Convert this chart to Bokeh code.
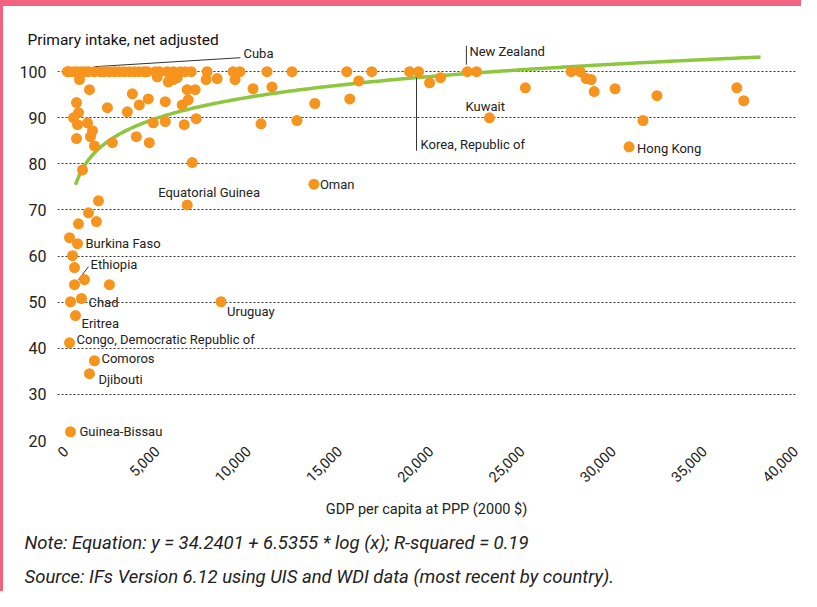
import math
import numpy as np
from bokeh.plotting import figure
from bokeh.layouts import column, row
from bokeh.models import Range1d, FixedTicker, NumeralTickFormatter, ColumnDataSource, Title, Spacer
from bokeh.embed import file_html
from bokeh.resources import INLINE
from bokeh.core.properties import value

# ---------------- data ----------------
# countries at 100 (net adjusted primary intake), GDP per capita at PPP (2000 $)
top_gdp = [100, 160, 380, 600, 820, 1040, 1260, 1910, 2130, 2400, 2680, 2950, 3220,
           3500, 3770, 4040, 4320, 4480, 4920, 5140, 5570, 5900, 6290, 6560, 6890,
           7760, 9180, 9560, 11040, 12410, 15410, 16780, 18850, 22520, 27710, 28200]
top_intake = [100] * len(top_gdp)

other_gdp = [765, 1312, 601, 710, 437, 656, 1202, 601, 1476, 1366, 1585, 929,
             2295, 2568, 3388, 3661, 4044, 4536, 3880, 4590, 4809, 5465, 5465,
             5028, 5629, 5902, 6121, 6668, 7105, 6722, 6394, 6503, 7159, 6941,
             7705, 8306, 9290, 10274, 11312, 10711, 12679, 13663, 15575, 16067,
             19950, 20551, 25196, 28530, 28803, 28967, 30115, 31645, 32410,
             36782, 37164,
             1803, 1257, 1694, 710, 218, 382, 491, 1038, 2405, 273]
other_intake = [98.3, 96.1, 93.3, 91.1, 90.0, 88.5, 88.9, 85.5, 87.2, 85.9, 83.9, 78.7,
                92.2, 84.6, 91.3, 95.2, 92.8, 94.1, 85.9, 84.6, 88.9, 93.5, 89.2,
                98.9, 97.8, 98.3, 98.7, 96.1, 96.1, 93.9, 92.8, 88.5, 89.8, 80.3,
                98.3, 98.5, 98.3, 96.3, 96.7, 88.7, 89.4, 93.1, 94.1, 98.0,
                97.6, 98.7, 96.5, 98.5, 98.3, 95.7, 96.3, 89.4, 94.8,
                96.5, 93.7,
                72.0, 69.4, 67.5, 67.0, 64.0, 60.1, 57.5, 54.9, 53.8, 50.1]

label_names = ["Cuba", "Korea, Republic of", "New Zealand", "Kuwait", "Hong Kong",
               "Oman", "Equatorial Guinea", "Burkina Faso", "Ethiopia", "Chad",
               "Uruguay", "Eritrea", "Congo, Democratic Republic of", "Comoros",
               "Djibouti", "Guinea-Bissau"]
label_gdp = [1585, 19343, 22020, 23230, 30880, 13610, 6668, 656, 491, 874,
             8522, 546, 218, 1585, 1312, 273]
label_intake = [100, 100, 100, 90.0, 83.7, 75.6, 71.1, 62.7, 53.8, 50.8,
                50.1, 47.1, 41.2, 37.3, 34.5, 21.9]

x_ticks = [0, 5000, 10000, 15000, 20000, 25000, 30000, 35000, 40000]
y_ticks = [20, 30, 40, 50, 60, 70, 80, 90, 100]

trend_a, trend_b = 34.2401, 6.5355          # y = a + b * ln(x)
trend_x_min, trend_x_max = 547, 38085

title_text = "Primary intake, net adjusted"
xaxis_text = "GDP per capita at PPP (2000 $)"
note_text = "Note: Equation: y = 34.2401 + 6.5355 * log (x); R-squared = 0.19"
source_text = "Source: IFs Version 6.12 using UIS and WDI data (most recent by country)."

# ---------------- layout / style ----------------
PINK = "#F06381"
FONT = "Roboto"
ORANGE = "#F7941D"
GREEN = "#8DC63F"
TXT = "#222222"

W, H = 798, 585              # next to a 3px pink stripe, under a 6px pink band
L, R, T, B = 54, 6, 38, 151
X0, X1 = -440, 40000
Y0, Y1 = 20, 105.9
FW, FH = W - L - R, H - T - B
XPP = (X1 - X0) / FW
YPP = (Y1 - Y0) / FH

p = figure(width=W, height=H, x_range=Range1d(X0, X1), y_range=Range1d(Y0, Y1),
           output_backend="svg", toolbar_location=None,
           min_border_left=L, min_border_right=R, min_border_top=T, min_border_bottom=B)
p.outline_line_color = None
p.background_fill_color = "white"
p.border_fill_color = "white"

for ax in (p.xaxis, p.yaxis):
    ax.axis_line_color = None
    ax.major_tick_line_color = None
    ax.minor_tick_line_color = None
    ax.major_label_text_font = FONT
    ax.major_label_text_color = TXT
p.xaxis.ticker = FixedTicker(ticks=x_ticks)
p.xaxis.formatter = NumeralTickFormatter(format="0,0")
p.xaxis.major_label_orientation = math.pi / 4
p.xaxis.major_label_text_font_size = "14.5px"
p.xaxis.major_label_standoff = 2
p.xaxis.axis_label = xaxis_text
p.xaxis.axis_label_text_font = FONT
p.xaxis.axis_label_text_font_size = "14.5px"
p.xaxis.axis_label_text_font_style = "normal"
p.xaxis.axis_label_text_color = TXT
p.xaxis.axis_label_standoff = 11
p.yaxis.ticker = FixedTicker(ticks=y_ticks)
p.yaxis.major_label_text_font_size = "16px"
p.yaxis.major_label_standoff = 5

p.xgrid.grid_line_color = None
p.ygrid.grid_line_color = "#333333"
p.ygrid.grid_line_dash = "2 2"
p.ygrid.grid_line_width = 1

# titles (title above, notes below the axis)
p.add_layout(Title(text=title_text, align="left", offset=-30, standoff=-8,
                   text_font=FONT, text_font_size="15.5px", text_font_style="normal",
                   text_color="#111111"), "above")
p.add_layout(Title(text=note_text, align="left", offset=-33, standoff=17,
                   text_font=FONT, text_font_size="18.5px", text_font_style="italic",
                   text_color=TXT), "below")
p.add_layout(Title(text=source_text, align="left", offset=-33, standoff=3,
                   text_font=FONT, text_font_size="18.5px", text_font_style="italic",
                   text_color=TXT), "below")

# trend line
tx = np.linspace(trend_x_min, trend_x_max, 300)
ty = trend_a + trend_b * np.log(tx)
p.line(tx, ty, line_color=GREEN, line_width=3.5)

# label text offsets (px) relative to the point
label_dx = [149, 2, 2, -24, 8, 6, -29, 8, 16, 7, 6, 6, 7, 7, 9, 9]
label_dy = [-18, 73, -20, -11, 2, 0, -12, 0, -20, 4, 10, 8, -3, -2, 6, 0]
# leader lines (px offsets from the point): (dx0, dy0, dx1, dy1)
leaders = {"Cuba": (0, -5, 146, -14),
           "New Zealand": (-1, -7, -1, -26),
           "Korea, Republic of": (-2, 6, -2, 79),
           "Ethiopia": (4, -5, 14, -18)}

x0s, y0s, x1s, y1s = [], [], [], []
for name, (a, b, c, d) in leaders.items():
    i = label_names.index(name)
    x0s.append(label_gdp[i] + a * XPP); y0s.append(label_intake[i] - b * YPP)
    x1s.append(label_gdp[i] + c * XPP); y1s.append(label_intake[i] - d * YPP)
p.segment(x0s, y0s, x1s, y1s, line_color="#333333", line_width=1)

# points
all_x = top_gdp + other_gdp + label_gdp
all_y = top_intake + other_intake + label_intake
p.scatter(all_x, all_y, size=11, fill_color=ORANGE, line_color=None)

# labels
src = ColumnDataSource(dict(x=label_gdp, y=label_intake, text=label_names,
                            dx=label_dx, dy=label_dy))
p.text(x="x", y="y", text="text", x_offset="dx", y_offset="dy", source=src,
       text_font=value(FONT), text_font_size="13px", text_color=TXT,
       text_baseline="middle", text_align="left")

band = Spacer(width=W + 3, height=6, styles={"background-color": PINK})
stripe = Spacer(width=3, height=H, styles={"background-color": PINK})
layout = column(band, row(stripe, p, spacing=0), spacing=0)

open("out.html", "w").write(file_html(layout, INLINE))
